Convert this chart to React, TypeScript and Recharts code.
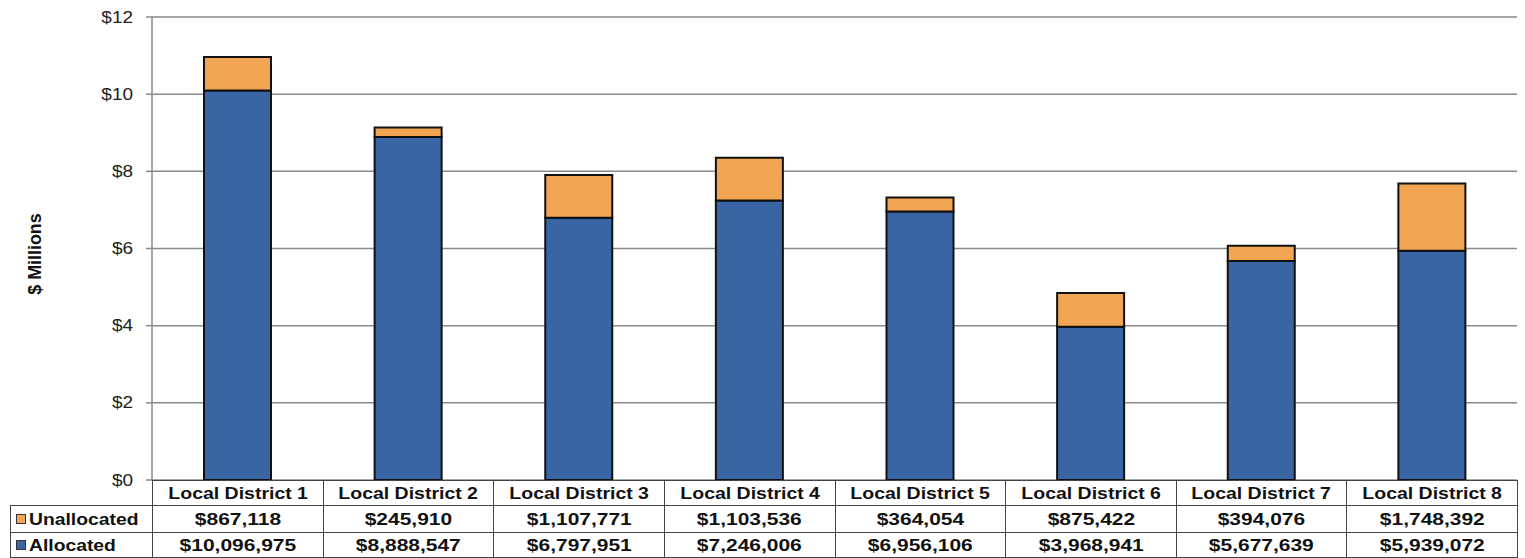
import React from 'react';
import { BarChart, Bar, XAxis, YAxis, CartesianGrid } from 'recharts';

const categories = [
  'Local District 1',
  'Local District 2',
  'Local District 3',
  'Local District 4',
  'Local District 5',
  'Local District 6',
  'Local District 7',
  'Local District 8',
];
const allocated = [10096975, 8888547, 6797951, 7246006, 6956106, 3968941, 5677639, 5939072];
const unallocated = [867118, 245910, 1107771, 1103536, 364054, 875422, 394076, 1748392];
const yTicks = [0, 2, 4, 6, 8, 10, 12];
const seriesNames = ['Unallocated', 'Allocated'];

const BLUE = '#3a65a5';
const ORANGE = '#f2a552';
const FONT = '"Liberation Sans", Arial, sans-serif';

const data = categories.map((c, i) => ({
  name: c,
  allocated: allocated[i] / 1e6,
  unallocated: unallocated[i] / 1e6,
}));

const fmt = (v: number) => '$' + v.toLocaleString('en-US');

const W = 1525;
const H = 558;
const PLOT_L = 152;
const PLOT_R = 1517;
const PLOT_T = 17;
const PLOT_B = 480;
const COL_W = (PLOT_R - PLOT_L) / categories.length;
const ROW1 = 505;
const ROW2 = 532;
const TABLE_L = 10;

const YTick = (props: any) => {
  const { x, y, payload } = props;
  return (
    <text
      x={0}
      y={0}
      transform={`translate(${x},${y}) scale(1.15,1)`}
      textAnchor="end"
      dominantBaseline="central"
      fontSize={16.5}
      fill="#222"
      fontFamily={FONT}
    >
      {'$' + payload.value}
    </text>
  );
};

const cellText: React.CSSProperties = {
  fontFamily: FONT,
  fontWeight: 'bold',
  fontSize: 16.5,
  color: '#111',
  whiteSpace: 'nowrap',
};

function Cell({ left, top, width, height, children, align = 'center' }: any) {
  return (
    <div
      style={{
        position: 'absolute',
        left,
        top,
        width: width + 1,
        height: height + 1,
        boxSizing: 'border-box',
        border: '1px solid #444',
        display: 'flex',
        alignItems: 'center',
        justifyContent: align === 'center' ? 'center' : 'flex-start',
        overflow: 'visible',
      }}
    >
      {children}
    </div>
  );
}

export default function App() {
  const rows = [
    { label: seriesNames[0], color: ORANGE, values: unallocated },
    { label: seriesNames[1], color: BLUE, values: allocated },
  ];
  return (
    <div style={{ position: 'absolute', left: 0, top: 0, width: W, height: H, background: '#fff' }}>
      <BarChart
        width={W}
        height={H}
        data={data}
        margin={{ top: PLOT_T, right: W - PLOT_R, bottom: H - PLOT_B, left: 0 }}
        barCategoryGap={0}
      >
        <CartesianGrid vertical={false} stroke="#8a8a8a" strokeWidth={1.5} />
        <XAxis dataKey="name" hide />
        <YAxis
          width={PLOT_L}
          domain={[0, 12]}
          ticks={yTicks}
          interval={0}
          axisLine={{ stroke: '#888', strokeWidth: 1.5 }}
          tickLine={{ stroke: '#888', strokeWidth: 1.5 }}
          tickSize={6}
          tickMargin={13}
          tick={<YTick />}
        />
        <Bar
          dataKey="allocated"
          stackId="a"
          fill={BLUE}
          stroke="#111"
          strokeWidth={2}
          barSize={67}
          isAnimationActive={false}
        />
        <Bar
          dataKey="unallocated"
          stackId="a"
          fill={ORANGE}
          stroke="#111"
          strokeWidth={2}
          barSize={67}
          isAnimationActive={false}
        />
      </BarChart>

      {/* Y axis title */}
      <div
        style={{
          position: 'absolute',
          left: 35,
          top: 254,
          transform: 'translate(-50%,-50%) rotate(-90deg) scale(1.05,1.1)',
          fontFamily: FONT,
          fontWeight: 'bold',
          fontSize: 17,
          color: '#111',
          whiteSpace: 'nowrap',
        }}
      >
        $ Millions
      </div>

      {/* Data table */}
      {categories.map((c, i) => (
        <Cell key={'h' + i} left={PLOT_L + i * COL_W} top={PLOT_B} width={COL_W} height={ROW1 - PLOT_B}>
          <span style={{ ...cellText, display: 'inline-block', transform: 'scaleX(1.18)' }}>{c}</span>
        </Cell>
      ))}
      {rows.map((r, ri) => {
        const top = ri === 0 ? ROW1 : ROW2;
        const h = ri === 0 ? ROW2 - ROW1 : H - 1 - ROW2;
        return (
          <React.Fragment key={'r' + ri}>
            <Cell left={TABLE_L} top={top} width={PLOT_L - TABLE_L} height={h} align="left">
              <span
                style={{
                  display: 'inline-block',
                  width: 8,
                  height: 8,
                  marginLeft: 5,
                  marginRight: 3,
                  background: r.color,
                  border: '1.5px solid #333',
                }}
              />
              <span
                style={{
                  ...cellText,
                  display: 'inline-block',
                  transform: 'scaleX(1.17)',
                  transformOrigin: 'left center',
                }}
              >
                {r.label}
              </span>
            </Cell>
            {r.values.map((v, i) => (
              <Cell key={'c' + ri + i} left={PLOT_L + i * COL_W} top={top} width={COL_W} height={h}>
                <span style={{ ...cellText, display: 'inline-block', transform: 'scaleX(1.27)' }}>{fmt(v)}</span>
              </Cell>
            ))}
          </React.Fragment>
        );
      })}
    </div>
  );
}
